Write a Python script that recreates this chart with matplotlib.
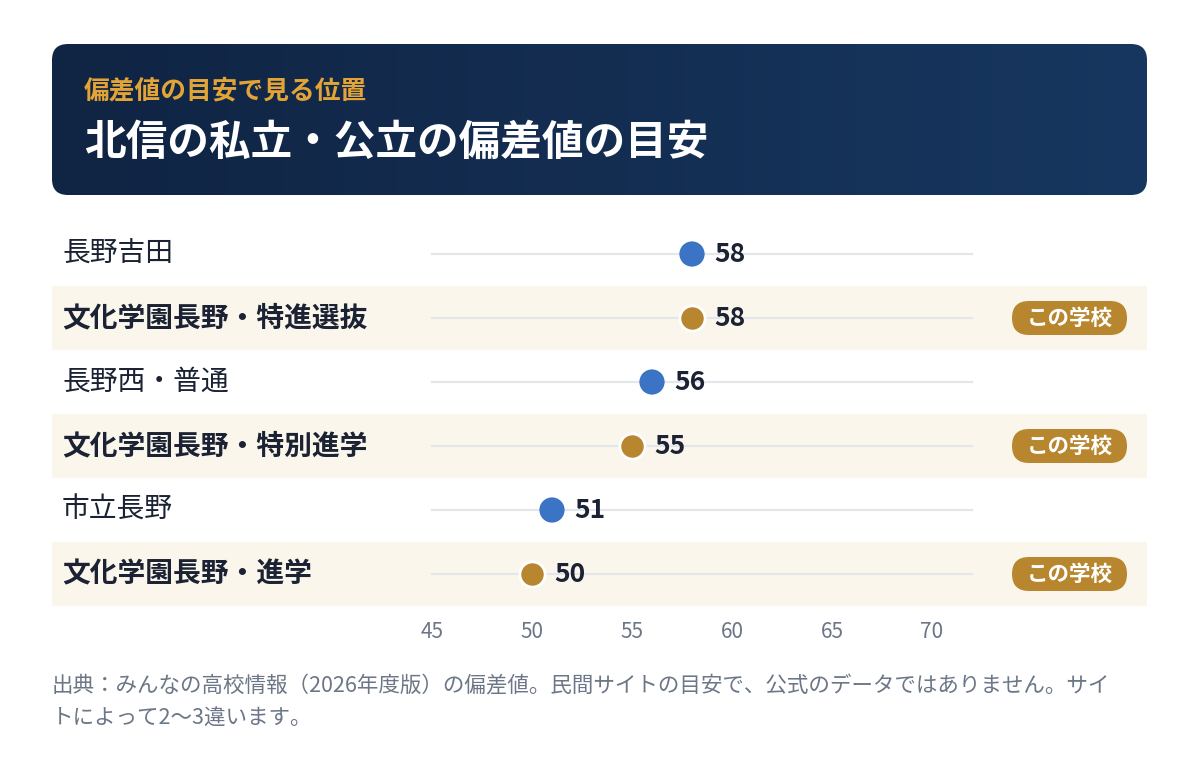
import matplotlib
matplotlib.use("Agg")
import matplotlib.pyplot as plt
from matplotlib.patches import FancyBboxPatch, Rectangle
from matplotlib.colors import LinearSegmentedColormap
import numpy as np

plt.rcParams['font.family'] = ['Noto Sans CJK JP', 'DejaVu Sans']

schools = ["長野吉田", "文化学園長野・特進選抜", "長野西・普通", "文化学園長野・特別進学", "市立長野", "文化学園長野・進学"]
values = [58, 58, 56, 55, 51, 50]
is_this = [False, True, False, True, False, True]
ticks = [45, 50, 55, 60, 65, 70]
subtitle = "偏差値の目安で見る位置"
title = "北信の私立・公立の偏差値の目安"
badge = "この学校"
note = "出典：みんなの高校情報（2026年度版）の偏差値。民間サイトの目安で、公式のデータではありません。サイ\nトによって2〜3違います。"

W, H = 1200, 772
fig = plt.figure(figsize=(12, 7.72), dpi=100)
bg = fig.add_axes([0, 0, 1, 1])
bg.set_xlim(0, W); bg.set_ylim(H, 0); bg.axis('off')

hdr = FancyBboxPatch((52, 44), 1095, 151, boxstyle="round,pad=0,rounding_size=16",
                     fc='none', ec='none')
bg.add_patch(hdr)
grad = np.linspace(0, 1, 256).reshape(1, -1)
cm = LinearSegmentedColormap.from_list('g', ['#102443', '#173760'])
im = bg.imshow(grad, extent=(52, 1147, 195, 44), cmap=cm, aspect='auto', zorder=1)
im.set_clip_path(hdr)
bg.text(84, 91, subtitle, color='#e3a437', fontsize=18.5, fontweight='bold', va='center', zorder=2)
bg.text(84, 143, title, color='white', fontsize=30, fontweight='bold', va='center', zorder=2)

row0, rh = 254, 64
for i, (s, t) in enumerate(zip(schools, is_this)):
    cy = row0 + i * rh
    if t:
        bg.add_patch(Rectangle((52, cy - 32), 1095, 64, fc='#fbf6ec', ec='none', zorder=0))
        bg.add_patch(FancyBboxPatch((1012, cy - 17), 115, 34, boxstyle="round,pad=0,rounding_size=17",
                                    fc='#b8862f', ec='none', zorder=2))
        bg.text(1069.5, cy, badge, color='white', fontsize=15.5, fontweight='bold',
                ha='center', va='center', zorder=3)
    bg.text(62, cy, s, color='#1a2233', fontsize=20, fontweight='bold' if t else 'normal',
            va='center', zorder=2)
bg.text(52, 703, note, color='#6b7686', fontsize=15.5, va='center', linespacing=1.6)

ax = fig.add_axes([0, 0, 1, 1], facecolor='none')
x0 = 45 - 432 / 20
ax.set_xlim(x0, x0 + W / 20)
ax.set_ylim((H - row0) / rh, -row0 / rh)
ax.axis('off')
for i, (v, t) in enumerate(zip(values, is_this)):
    ax.plot([45, 72], [i, i], color='#e3e6ea', lw=1.5, zorder=1)
    ax.scatter([v], [i], s=330, color='#b8862f' if t else '#3b74c4',
               edgecolors='white' if t else 'none', linewidths=2, zorder=3)
    ax.text(v + 1.1, i, str(v), fontsize=19, fontweight='bold', color='#1a2233',
            va='center', ha='left', zorder=4)
ty = (632 - row0) / rh
for tk in ticks:
    ax.text(tk, ty, str(tk), fontsize=15, color='#6b7686', ha='center', va='center')

fig.savefig('out.png', dpi=100)
